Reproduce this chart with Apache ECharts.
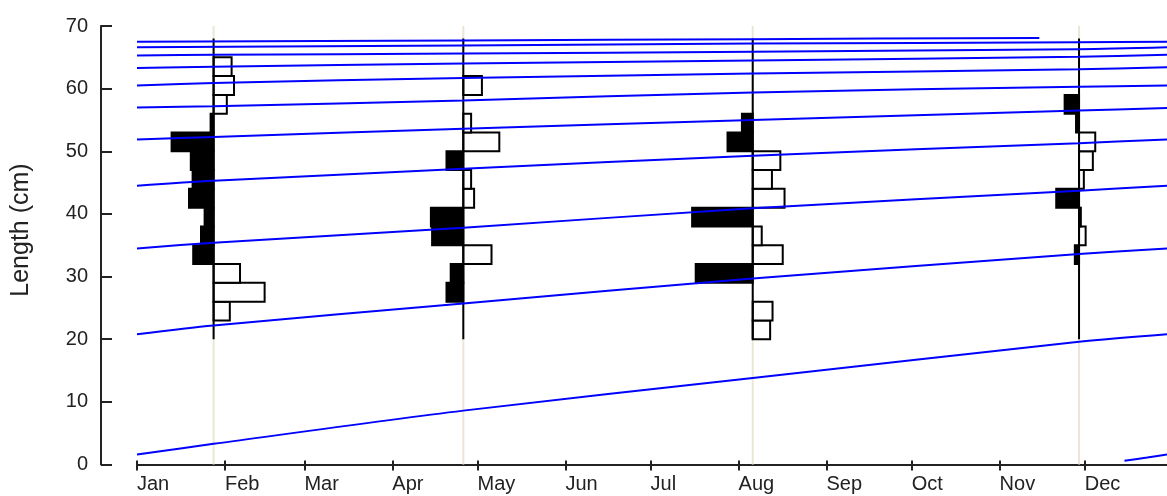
<!DOCTYPE html>
<html>
<head>
<meta charset="utf-8">
<script src="https://cdn.jsdelivr.net/npm/echarts@6/dist/echarts.min.js"></script>
<style>
  html, body { margin: 0; padding: 0; background: #fff; }
  #chart { width: 1167px; height: 496px; }
</style>
</head>
<body>
<div id="chart"></div>
<script>
// Calendar axis: day of year (0 = 1 Jan)
const months = ['Jan','Feb','Mar','Apr','May','Jun','Jul','Aug','Sep','Oct','Nov','Dec'];
const monthStartDays = [0, 31, 59, 90, 120, 151, 181, 212, 243, 273, 304, 334];

// Length classes (lower edges, cm), 3 cm wide
const binLowerEdges = [20, 23, 26, 29, 32, 35, 38, 41, 44, 47, 50, 53, 56, 59, 62, 65];
const BIN_WIDTH = 3;

// Sampling dates (day of year)
const sampleDays = [27, 115, 217, 332];

// Restructured frequency scores per length class (negative = troughs, positive = peaks)
const scoresJan = [0, 0.27, 0.85, 0.44, -0.34, -0.21, -0.15, -0.41, -0.35, -0.38, -0.70, -0.05, 0.22, 0.34, 0.30, 0];
const scoresApr = [0, 0, -0.28, -0.21, 0.47, -0.52, -0.54, 0.18, 0.13, -0.28, 0.60, 0.13, 0, 0.31, 0, 0];
const scoresAug = [0.29, 0.33, 0, -0.95, 0.50, 0.15, -1.01, 0.53, 0.32, 0.46, -0.42, -0.18, 0, 0, 0, 0];
const scoresNov = [0, 0, 0, 0, -0.07, 0.11, 0.03, -0.38, 0.08, 0.23, 0.27, -0.05, -0.24, 0, 0, 0];
const sampleScores = [scoresJan, scoresApr, scoresAug, scoresNov];

// Growth curves of successive cohorts: [day of year, length cm]
const cohort1 = [[0, 1.6], [27, 3.3], [115, 8.6], [217, 13.8], [332, 19.6], [363, 20.8]];
const cohort2 = [[0, 20.8], [27, 22.2], [115, 25.7], [217, 29.7], [332, 33.6], [363, 34.5]];
const cohort3 = [[0, 34.5], [27, 35.4], [115, 37.8], [217, 40.9], [332, 43.7], [363, 44.5]];
const cohort4 = [[0, 44.5], [27, 45.3], [115, 47.2], [217, 49.3], [332, 51.3], [363, 51.9]];
const cohort5 = [[0, 51.9], [27, 52.3], [115, 53.6], [217, 55.0], [332, 56.5], [363, 56.9]];
const cohort6 = [[0, 57.0], [27, 57.2], [115, 58.1], [217, 59.4], [332, 60.3], [363, 60.5]];
const cohort7 = [[0, 60.5], [27, 60.9], [115, 61.7], [217, 62.4], [332, 63.1], [363, 63.4]];
const cohort8 = [[0, 63.3], [27, 63.5], [115, 64.0], [217, 64.5], [332, 65.1], [363, 65.4]];
const cohort9 = [[0, 65.3], [27, 65.4], [115, 65.6], [217, 65.9], [332, 66.3], [363, 66.6]];
const cohort10 = [[0, 66.6], [115, 66.9], [217, 67.2], [332, 67.4], [363, 67.5]];
const cohort11 = [[0, 67.5], [115, 67.7], [217, 67.9], [318, 68.1]];
const cohort0 = [[348, 0.6], [356, 1.1], [363, 1.6]];
const cohorts = [cohort0, cohort1, cohort2, cohort3, cohort4, cohort5, cohort6, cohort7, cohort8, cohort9, cohort10, cohort11];

// Horizontal extent of a score of 1.0, in days
const SCORE_SPAN_DAYS = 21.15;

const FONT = 'Liberation Sans, Arial, sans-serif';
const INK = '#222';

// Histogram records: [sampleDay, classLow, classHigh, score]
const barData = [];
sampleDays.forEach((d, s) => {
  sampleScores[s].forEach((v, i) => {
    if (v !== 0) barData.push([d, binLowerEdges[i], binLowerEdges[i] + BIN_WIDTH, v]);
  });
});
const baseTop = binLowerEdges[binLowerEdges.length - 1] + BIN_WIDTH;
const baseBottom = binLowerEdges[0];

const chart = echarts.init(document.getElementById('chart'), null, { renderer: 'canvas' });

const series = [
  {
    // faint guide at each sampling date
    type: 'custom', z: 1, silent: true,
    data: sampleDays.map(d => [d]),
    encode: { x: 0 },
    renderItem: (params, api) => {
      const d = api.value(0);
      const a = api.coord([d, 0]);
      const b = api.coord([d, 70]);
      return { type: 'line', shape: { x1: a[0], y1: a[1], x2: b[0], y2: b[1] },
               style: { stroke: '#ebe6d6', lineWidth: 2 } };
    }
  },
  {
    // length-frequency histograms
    type: 'custom', z: 2, silent: true,
    data: barData,
    encode: { x: 0, y: [1, 2] },
    renderItem: (params, api) => {
      const d = api.value(0), lo = api.value(1), hi = api.value(2), v = api.value(3);
      const p0 = api.coord([d, lo]);
      const p1 = api.coord([d + v * SCORE_SPAN_DAYS, hi]);
      const x = Math.min(p0[0], p1[0]);
      const y = Math.min(p0[1], p1[1]);
      return { type: 'rect',
               shape: { x: x, y: y, width: Math.abs(p1[0] - p0[0]), height: Math.abs(p1[1] - p0[1]) },
               style: { fill: v < 0 ? '#000' : '#fff', stroke: '#000', lineWidth: 2 } };
    }
  },
  {
    // sample baselines
    type: 'custom', z: 3, silent: true,
    data: sampleDays.map(d => [d]),
    encode: { x: 0 },
    renderItem: (params, api) => {
      const d = api.value(0);
      const a = api.coord([d, baseBottom]);
      const b = api.coord([d, baseTop]);
      return { type: 'line', shape: { x1: a[0], y1: a[1], x2: b[0], y2: b[1] },
               style: { stroke: '#000', lineWidth: 2 } };
    }
  }
];

cohorts.forEach(c => {
  series.push({
    type: 'line', z: 4, silent: true, data: c,
    showSymbol: false, symbol: 'none', smooth: 0.3,
    lineStyle: { color: '#0000ff', width: 2 }
  });
});

const option = {
  animation: false,
  backgroundColor: '#fff',
  grid: { left: 137, right: 0, top: 26, bottom: 31.5, outerBoundsMode: 'none' },
  xAxis: [
    {
      type: 'value', min: 0, max: 363,
      axisLine: { show: true, onZero: false, lineStyle: { color: INK, width: 2 } },
      axisTick: { show: true, customValues: monthStartDays, length: 6, lineStyle: { color: INK, width: 2 } },
      axisLabel: {
        customValues: monthStartDays,
        formatter: v => months[monthStartDays.indexOf(v)] || '',
        align: 'left', margin: 10, fontSize: 20, color: INK, fontFamily: FONT
      },
      splitLine: { show: false }
    },
    {
      // upward half of the month ticks
      type: 'value', min: 0, max: 363, position: 'bottom',
      axisLine: { show: false, onZero: false },
      axisTick: { show: true, inside: true, customValues: monthStartDays, length: 4, lineStyle: { color: INK, width: 2 } },
      axisLabel: { show: false },
      splitLine: { show: false }
    }
  ],
  yAxis: {
    type: 'value', min: 0, max: 70, interval: 10, offset: 36, position: 'left',
    axisLine: { show: true, onZero: false, lineStyle: { color: INK, width: 2 } },
    axisTick: { show: true, inside: true, length: 11, lineStyle: { color: INK, width: 2 } },
    axisLabel: { margin: 13, fontSize: 20, color: INK, fontFamily: FONT },
    splitLine: { show: false }
  },
  graphic: [{
    type: 'text', x: 21, y: 230, rotation: Math.PI / 2,
    style: { text: 'Length (cm)', fontSize: 25, fontFamily: FONT, fill: INK,
             align: 'center', verticalAlign: 'middle' }
  }],
  series: series
};

chart.setOption(option);
</script>
</body>
</html>
